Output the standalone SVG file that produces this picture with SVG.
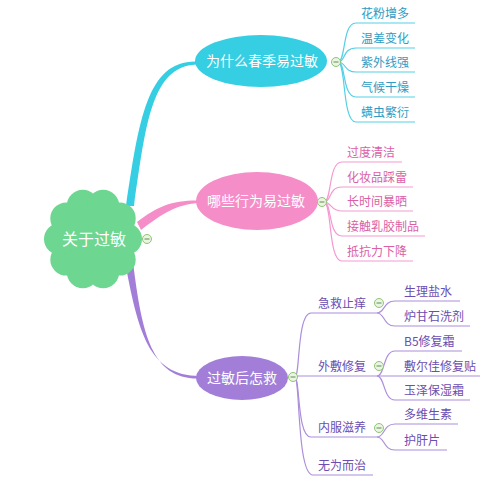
<svg xmlns="http://www.w3.org/2000/svg" width="480" height="480" viewBox="0 0 480 480">
<style>
text{font-family:"Noto Sans CJK SC","Liberation Sans",sans-serif;}
.nt{fill:#fff;font-size:14px;text-anchor:middle;}
.c1{fill:#2E9CC2;font-size:12px;}
.c2{fill:#DA5FA6;font-size:12px;}
.c3{fill:#6C4DB0;font-size:12px;}
.l1{fill:none;stroke:#55D0E6;stroke-width:1.2;}
.l2{fill:none;stroke:#F49AD0;stroke-width:1.2;}
.l3{fill:none;stroke:#AC8EDB;stroke-width:1.2;}
.cb circle{fill:#EAF5E2;stroke:#8DC474;stroke-width:1;}
.cb line{stroke:#7E9A70;stroke-width:1.2;}
</style>
<defs>
<g id="btn" class="cb"><circle r="4.5"/><line x1="-2.5" y1="0" x2="2.5" y2="0"/></g>
</defs>
<g id="connectors">
<path d="M126,206 C139,120 147,61 196,61.5 L196,64.5 C152,67 146,122 134,206 Z" fill="#35CEE2"/>
<path d="M137,222 C158,206 172,200 200,200.5 L200,203 C176,204 162,214 141,230 Z" fill="#F58DC9"/>
<path d="M125,262 C138,330 148,376 200,376 L200,378.5 C152,380 142,335 133,262 Z" fill="#A27ED9"/>
<path class="l1" d="M338,62 C346,62 342,23 356,23 L415,23"/>
<path class="l1" d="M338,62 C346,62 342,48 356,48 L415,48"/>
<path class="l1" d="M338,62 C346,62 344,72 356,72 L415,72"/>
<path class="l1" d="M338,62 C346,62 342,97 356,97 L415,97"/>
<path class="l1" d="M338,62 C346,62 342,122 356,122 L415,122"/>
<path class="l2" d="M324,202 C332,202 328,162 342,162 L402,162"/>
<path class="l2" d="M324,202 C332,202 328,187 342,187 L413,187"/>
<path class="l2" d="M324,202 C332,202 330,211 342,211 L413,211"/>
<path class="l2" d="M324,202 C332,202 328,236 342,236 L425,236"/>
<path class="l2" d="M324,202 C332,202 328,261 342,261 L413,261"/>
<path class="l3" d="M295,377 C300,377 297,313 311,313 L377,313"/>
<path class="l3" d="M295,376 L480,376"/>
<path class="l3" d="M295,378 C300,378 297,437 311,437 L377,437"/>
<path class="l3" d="M295,378 C300,378 297,475 313,475 L373,475"/>
<path class="l3" d="M377,313 C385,313 383,301 395,301 L460,301"/>
<path class="l3" d="M377,313 C385,313 383,326 395,326 L470,326"/>
<path class="l3" d="M377,376 C385,376 383,351 395,351 L462,351"/>
<path class="l3" d="M377,376 C385,376 383,400 395,400 L470,400"/>
<path class="l3" d="M377,437 C385,437 383,424 395,424 L458,424"/>
<path class="l3" d="M377,437 C385,437 383,450 395,450 L447,450"/>
</g>
<g id="root">
<g fill="#6DD690">
<circle cx="93" cy="239" r="42"/>
<circle cx="126" cy="239" r="16"/>
<circle cx="119.7" cy="259.6" r="16"/>
<circle cx="103.2" cy="272.3" r="16"/>
<circle cx="82.8" cy="272.3" r="16"/>
<circle cx="66.3" cy="259.6" r="16"/>
<circle cx="60" cy="239" r="16"/>
<circle cx="66.3" cy="218.4" r="16"/>
<circle cx="82.8" cy="205.7" r="16"/>
<circle cx="103.2" cy="205.7" r="16"/>
<circle cx="119.7" cy="218.4" r="16"/>
</g>
<text x="94" y="245" fill="#fff" font-size="16" text-anchor="middle">关于过敏</text>
<use href="#btn" x="147" y="239"/>
</g>
<g id="n1">
<ellipse cx="261" cy="61" rx="66" ry="26" fill="#35CEE2"/>
<text class="nt" x="262" y="66">为什么春季易过敏</text>
<use href="#btn" x="336" y="62"/>
</g>
<g id="n1c">
<text class="c1" x="361" y="18">花粉增多</text>
<text class="c1" x="361" y="43">温差变化</text>
<text class="c1" x="361" y="67">紫外线强</text>
<text class="c1" x="361" y="92">气候干燥</text>
<text class="c1" x="361" y="117">螨虫繁衍</text>
</g>
<g id="n2">
<ellipse cx="257" cy="201" rx="61" ry="29" fill="#F58DC9"/>
<text class="nt" x="256" y="206">哪些行为易过敏</text>
<use href="#btn" x="322" y="202"/>
</g>
<g id="n2c">
<text class="c2" x="347" y="157">过度清洁</text>
<text class="c2" x="347" y="182">化妆品踩雷</text>
<text class="c2" x="347" y="206">长时间暴晒</text>
<text class="c2" x="347" y="231">接触乳胶制品</text>
<text class="c2" x="347" y="256">抵抗力下降</text>
</g>
<g id="n3">
<ellipse cx="242" cy="378" rx="46" ry="22" fill="#A27ED9"/>
<text class="nt" x="242" y="383">过敏后怎救</text>
<use href="#btn" x="293" y="377"/>
</g>
<g id="n3a">
<text class="c3" x="318" y="308">急救止痒</text>
<use href="#btn" x="379" y="303"/>
<text class="c3" x="404" y="296">生理盐水</text>
<text class="c3" x="404" y="321">炉甘石洗剂</text>
</g>
<g id="n3b">
<text class="c3" x="318" y="371">外敷修复</text>
<use href="#btn" x="379" y="366"/>
<text class="c3" x="404" y="346">B5修复霜</text>
<text class="c3" x="404" y="371">敷尔佳修复贴</text>
<text class="c3" x="404" y="395">玉泽保湿霜</text>
</g>
<g id="n3c">
<text class="c3" x="318" y="432">内服滋养</text>
<use href="#btn" x="379" y="428"/>
<text class="c3" x="404" y="419">多维生素</text>
<text class="c3" x="404" y="445">护肝片</text>
</g>
<g id="n3d">
<text class="c3" x="318" y="470">无为而治</text>
</g>
</svg>
